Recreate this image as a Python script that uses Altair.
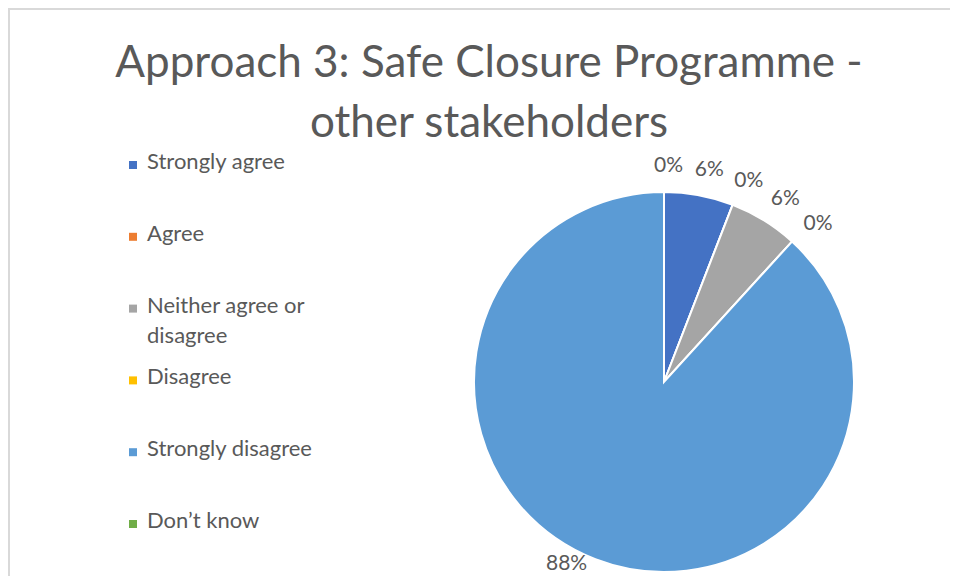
import altair as alt
import pandas as pd

categories = ["Strongly agree", "Agree", "Neither agree or disagree",
              "Disagree", "Strongly disagree", "Don\u2019t know"]
counts = [1, 0, 1, 0, 15, 0]
pct_labels = ["6%", "0%", "6%", "0%", "88%", "0%"]
colors = ["#4472C4", "#ED7D31", "#A5A5A5", "#FFC000", "#5B9BD5", "#70AD47"]
title_lines = ["Approach 3: Safe Closure Programme -", "other stakeholders"]

df = pd.DataFrame({
    "category": categories,
    "count": counts,
    "label": pct_labels,
    "idx": list(range(len(categories))),
})

FONT = "Lato"
TXT = "#595959"
CX, CY = 656, 374
R = 190

base = alt.Chart(df).transform_joinaggregate(
    total="sum(count)"
).transform_stack(
    stack="count", groupby=[], as_=["s0", "s1"], sort=[alt.SortField("idx")]
).transform_calculate(
    f0="datum.s0 / datum.total",
    f1="datum.s1 / datum.total",
    fm="(datum.s0 + datum.s1) / 2 / datum.total",
)

tscale = alt.Scale(domain=[0, 1])
color = alt.Color("category:N", scale=alt.Scale(domain=categories, range=colors), legend=None)

pie = base.mark_arc(outerRadius=R, stroke="white", strokeWidth=2).encode(
    theta=alt.Theta("f0:Q", scale=tscale), theta2="f1:Q",
    color=color, x=alt.value(CX), y=alt.value(CY)
)

small_labels = base.transform_filter("datum.count < 5").mark_text(
    radius=222, fontSize=21, font=FONT, color=TXT, align="left", dx=-10, dy=6
).encode(theta=alt.Theta("fm:Q", scale=tscale), text="label:N",
         x=alt.value(CX), y=alt.value(CY))

big_labels = base.transform_filter("datum.count >= 5").mark_text(
    radius=195, fontSize=21, font=FONT, color=TXT, dx=-27
).encode(theta=alt.Theta("fm:Q", scale=tscale), text="label:N",
         x=alt.value(CX), y=alt.value(CY))

ly = alt.Y("category:N", sort=categories,
           scale=alt.Scale(domain=categories, range=[157, 516], padding=0), axis=None)

legend_sq = alt.Chart(df).mark_square(size=64, opacity=1).encode(
    x=alt.value(125), y=ly, color=color
)
legend_txt = alt.Chart(df).transform_calculate(
    lbl="datum.category == 'Neither agree or disagree' ? 'Neither agree or\\ndisagree' : datum.category"
).mark_text(
    align="left", baseline="top", dy=-13, fontSize=22, font=FONT, color=TXT, lineBreak="\n",
    lineHeight=30
).encode(x=alt.value(139), y=ly, text="lbl:N")

frame_df = pd.DataFrame({"a": [0]})
top_rule = alt.Chart(frame_df).mark_rule(color="#D9D9D9", strokeWidth=2).encode(
    x=alt.value(0), x2=alt.value(950), y=alt.value(1)
)
left_rule = alt.Chart(frame_df).mark_rule(color="#D9D9D9", strokeWidth=2).encode(
    x=alt.value(1), y=alt.value(0), y2=alt.value(576)
)

chart = alt.layer(
    top_rule, left_rule, pie, small_labels, big_labels, legend_sq, legend_txt
).properties(
    width=942, height=568,
    autosize=alt.AutoSizeParams(type="none"),
    padding=0,
    title=alt.TitleParams(
        text=title_lines, font=FONT, fontSize=44, fontWeight="normal", color=TXT,
        anchor="middle", frame="group", baseline="top", offset=0, dy=139, dx=10,
        lineHeight=60
    ),
).configure_view(strokeWidth=0).configure(background="white")

chart.save("out.html", embed_options={"renderer": "svg", "actions": False})
